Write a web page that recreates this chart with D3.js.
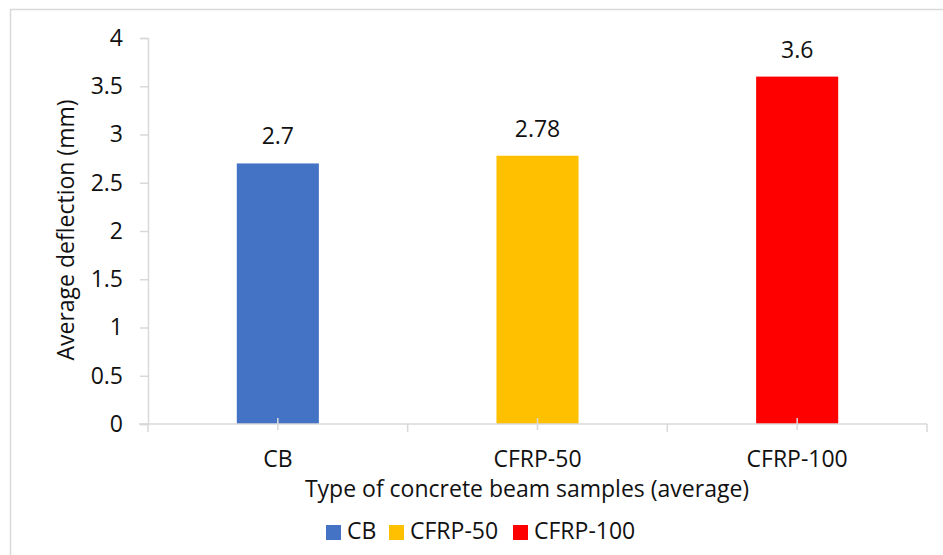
<!DOCTYPE html>
<html>
<head>
<meta charset="utf-8">
<script src="https://cdn.jsdelivr.net/npm/d3@7"></script>
<style>
  body { margin: 0; background: #fff; }
  svg text { font-family: "Open Sans", "Noto Sans", sans-serif; fill: #111; }
</style>
</head>
<body>
<div id="chart"></div>
<script>
// data
const categories = ['CB', 'CFRP-50', 'CFRP-100'];
const deflection = [2.7, 2.78, 3.6];
const barColors = ['#4472C4', '#FFC000', '#FF0000'];
const yTicks = [0, 0.5, 1, 1.5, 2, 2.5, 3, 3.5, 4];

const width = 943, height = 555;
const margin = {top: 38, right: 16, bottom: 131, left: 148};
const fontSize = '23px';

const svg = d3.select('#chart').append('svg')
    .attr('width', width)
    .attr('height', height);

// chart frame (only top and left edges visible)
svg.append('path')
    .attr('d', `M10.5,${height} L10.5,9.5 L${width},9.5`)
    .attr('fill', 'none')
    .attr('stroke', '#d9d9d9')
    .attr('stroke-width', 1.5);

const x = d3.scaleBand()
    .domain(categories)
    .range([margin.left, width - margin.right])
    .paddingInner(0)
    .paddingOuter(0);

const y = d3.scaleLinear()
    .domain([0, 4])
    .range([height - margin.bottom, margin.top]);

const barW = x.bandwidth() * 0.316;

// bars
svg.append('g')
    .selectAll('rect')
    .data(categories)
    .enter()
    .append('rect')
    .attr('x', d => x(d) + x.bandwidth() / 2 - barW / 2)
    .attr('y', (d, i) => y(deflection[i]))
    .attr('width', barW)
    .attr('height', (d, i) => y(0) - y(deflection[i]))
    .attr('fill', (d, i) => barColors[i]);

// y axis
const yAxis = svg.append('g')
    .attr('transform', `translate(${margin.left},0)`)
    .call(d3.axisLeft(y).tickValues(yTicks).tickSize(8).tickPadding(17)
        .tickFormat(d => d3.format('')(d)));
yAxis.select('.domain').attr('stroke', '#d9d9d9').attr('stroke-width', 1.5);
yAxis.selectAll('.tick line').attr('stroke', '#d9d9d9').attr('stroke-width', 1.5);
yAxis.selectAll('.tick text')
    .attr('font-size', fontSize)
    .attr('font-family', '"Open Sans", sans-serif')
    .attr('fill', '#111');

// x axis
const x0 = y(0);
const xAxis = svg.append('g');
xAxis.append('line')
    .attr('x1', margin.left - 9).attr('x2', width - margin.right)
    .attr('y1', x0).attr('y2', x0)
    .attr('stroke', '#d9d9d9').attr('stroke-width', 1.5);

const boundaries = categories.map(d => x(d)).concat([x.range()[1]]);
xAxis.selectAll('line.bound')
    .data(boundaries)
    .enter()
    .append('line')
    .attr('class', 'bound')
    .attr('x1', d => d).attr('x2', d => d)
    .attr('y1', x0).attr('y2', x0 + 8)
    .attr('stroke', '#d9d9d9').attr('stroke-width', 1.5);

xAxis.selectAll('line.mid')
    .data(categories)
    .enter()
    .append('line')
    .attr('class', 'mid')
    .attr('x1', d => x(d) + x.bandwidth() / 2).attr('x2', d => x(d) + x.bandwidth() / 2)
    .attr('y1', x0 - 6).attr('y2', x0 + 6)
    .attr('stroke', '#d9d9d9').attr('stroke-width', 1.5);

xAxis.selectAll('text')
    .data(categories)
    .enter()
    .append('text')
    .attr('x', d => x(d) + x.bandwidth() / 2)
    .attr('y', 467)
    .attr('text-anchor', 'middle')
    .attr('font-size', fontSize)
    .text(d => d);

// value labels
svg.append('g')
    .selectAll('text')
    .data(categories)
    .enter()
    .append('text')
    .attr('x', d => x(d) + x.bandwidth() / 2)
    .attr('y', (d, i) => y(deflection[i]) - 19)
    .attr('text-anchor', 'middle')
    .attr('font-size', fontSize)
    .text((d, i) => deflection[i]);

// axis titles
svg.append('text')
    .attr('x', 527)
    .attr('y', 497)
    .attr('text-anchor', 'middle')
    .attr('font-size', fontSize)
    .text('Type of concrete beam samples (average)');

svg.append('text')
    .attr('transform', 'translate(74,230) rotate(-90)')
    .attr('text-anchor', 'middle')
    .attr('font-size', fontSize)
    .text('Average deflection (mm)');

// legend
const legendX = [326, 389, 513];
const legend = svg.append('g');
legend.selectAll('rect')
    .data(categories)
    .enter()
    .append('rect')
    .attr('x', (d, i) => legendX[i])
    .attr('y', 525)
    .attr('width', 15)
    .attr('height', 15)
    .attr('fill', (d, i) => barColors[i]);
legend.selectAll('text')
    .data(categories)
    .enter()
    .append('text')
    .attr('x', (d, i) => legendX[i] + 21)
    .attr('y', 539)
    .attr('font-size', fontSize)
    .text(d => d);
</script>
</body>
</html>
